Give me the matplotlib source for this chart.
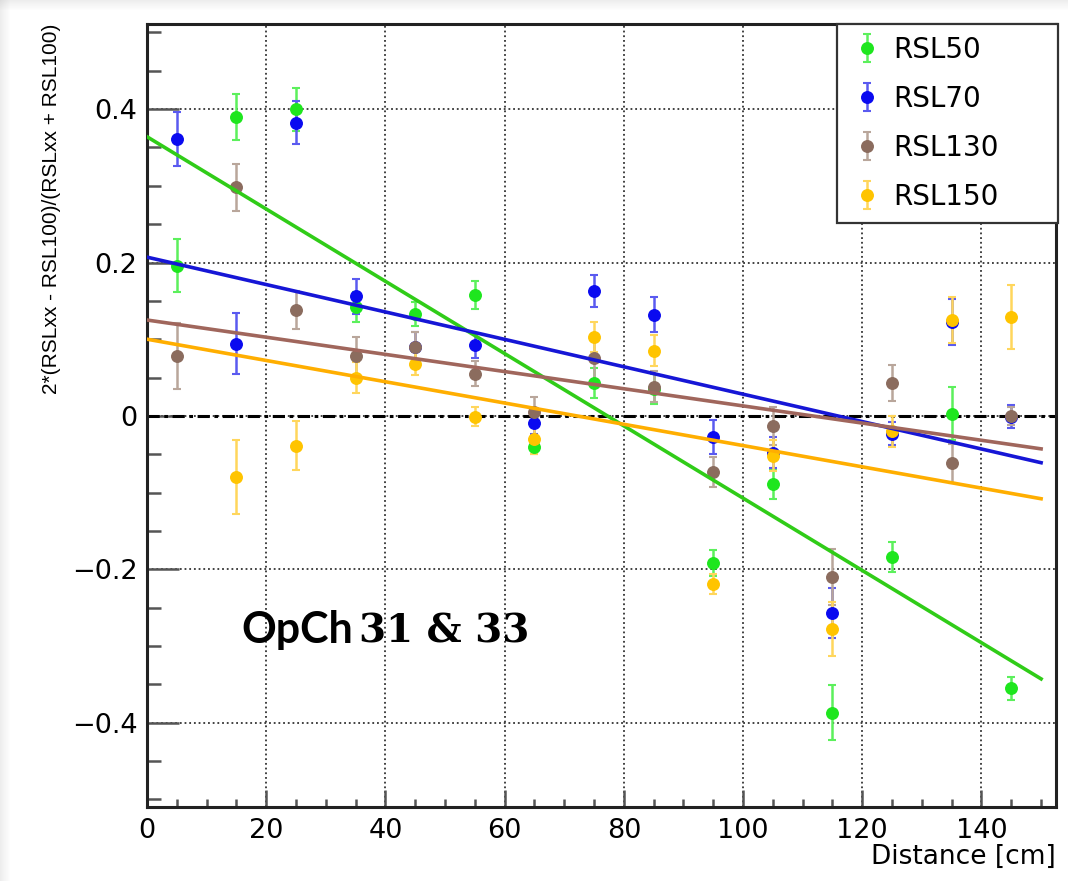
import matplotlib
matplotlib.use("Agg")
import matplotlib.pyplot as plt
from matplotlib import font_manager
from matplotlib.patches import Rectangle
from matplotlib.ticker import MultipleLocator
import numpy as np

# distance of the measurement points [cm]
distance = [5, 15, 25, 35, 45, 55, 65, 75, 85, 95, 105, 115, 125, 135, 145]

rsl50 = [0.196, 0.390, 0.400, 0.142, 0.133, 0.158, -0.040, 0.043, 0.035, -0.192, -0.089, -0.387, -0.184, 0.003, -0.355]
rsl50_err = [0.035, 0.030, 0.028, 0.020, 0.016, 0.018, 0.010, 0.020, 0.020, 0.017, 0.019, 0.036, 0.020, 0.035, 0.015]

rsl70 = [0.361, 0.094, 0.382, 0.156, 0.090, 0.092, -0.009, 0.163, 0.132, -0.028, -0.048, -0.257, -0.023, 0.123, -0.001]
rsl70_err = [0.035, 0.040, 0.028, 0.023, 0.020, 0.016, 0.015, 0.021, 0.023, 0.022, 0.020, 0.033, 0.015, 0.030, 0.015]

rsl130 = [0.078, 0.298, 0.138, 0.078, 0.090, 0.055, 0.005, 0.075, 0.038, -0.073, -0.013, -0.210, 0.043, -0.062, 0.000]
rsl130_err = [0.043, 0.031, 0.025, 0.025, 0.020, 0.016, 0.020, 0.030, 0.020, 0.020, 0.025, 0.036, 0.024, 0.025, 0.012]

rsl150 = [np.nan, -0.080, -0.039, 0.050, 0.068, -0.001, -0.030, 0.103, 0.085, -0.219, -0.052, -0.278, -0.020, 0.125, 0.129]
rsl150_err = [0.0, 0.048, 0.032, 0.020, 0.015, 0.012, 0.020, 0.020, 0.020, 0.013, 0.020, 0.035, 0.020, 0.030, 0.042]

# linear fit parameters (intercept, slope)
fit_intercept = [0.364, 0.207, 0.125, 0.100]
fit_slope = [-0.004713, -0.001787, -0.00112, -0.001387]
fit_range = [0, 150]

labels = ["RSL50", "RSL70", "RSL130", "RSL150"]
marker_colors = ["#1ee61e", "#0a0af0", "#8b6c5e", "#ffc400"]
error_colors = ["#5cf05c", "#5a5af0", "#b9a69b", "#ffd65c"]
line_colors = ["#30cc18", "#1616d6", "#a0665c", "#ffae00"]

series = [(rsl50, rsl50_err), (rsl70, rsl70_err), (rsl130, rsl130_err), (rsl150, rsl150_err)]

plt.rcParams['font.family'] = ['DejaVu Sans']

installed = {f.name for f in font_manager.fontManager.ttflist}
if 'Liberation Sans Narrow' in installed:
    ylab_font, ylab_size = 'Liberation Sans Narrow', 18
else:
    ylab_font, ylab_size = 'Liberation Sans', 15

fig = plt.figure(figsize=(10.68, 8.81), dpi=100)
ax = fig.add_axes([147 / 1068, 74 / 881, 909 / 1068, 783 / 881])

for (vals, errs), lab, mc, ec in zip(series, labels, marker_colors, error_colors):
    ax.errorbar(distance, vals, yerr=errs, fmt='o', color=mc, ms=8.3,
                ecolor=ec, elinewidth=1.8, capsize=3, capthick=1.5,
                label=lab, zorder=3)

xs = np.linspace(fit_range[0], fit_range[1], 50)
for b, m, lc in zip(fit_intercept, fit_slope, line_colors):
    ax.plot(xs, b + m * xs, color=lc, lw=2.6, zorder=4)

ax.axhline(0, color='black', ls=(0, (4, 1.5, 1.2, 1.5)), lw=2.2, zorder=2)

ax.set_xlim(0, 152.5)
ax.set_ylim(-0.51, 0.511)
ax.xaxis.set_major_locator(MultipleLocator(20))
ax.xaxis.set_minor_locator(MultipleLocator(5))
ax.yaxis.set_major_locator(MultipleLocator(0.2))
ax.yaxis.set_minor_locator(MultipleLocator(0.05))
ax.grid(True, which='major', color='#333333', ls=(0, (1, 1.6)), lw=1.3)

ax.tick_params(axis='both', which='both', direction='in', colors='#555555',
               labelcolor='black', labelsize=19.5)
ax.tick_params(axis='y', which='major', length=23, width=1.8, pad=7)
ax.tick_params(axis='y', which='minor', length=10, width=1.8)
ax.tick_params(axis='x', which='major', length=12, width=1.8, pad=8)
ax.tick_params(axis='x', which='minor', length=6, width=1.8)
ax.yaxis.set_major_formatter(plt.FuncFormatter(lambda v, p: "0" if abs(v) < 1e-9 else f"{v:.1f}".replace("-", "\u2212")))

for sp in ax.spines.values():
    sp.set_linewidth(2.2)
    sp.set_color('#222222')

ax.set_xlabel("Distance [cm]", fontsize=19, loc='right')
ax.xaxis.set_label_coords(1.0, -0.047)
ax.set_ylabel("2*(RSLxx - RSL100)/(RSLxx + RSL100)", fontsize=ylab_size,
              family=[ylab_font, 'DejaVu Sans'], loc='top')
ax.yaxis.set_label_coords(-0.095, 1.0)

leg = ax.legend(loc='upper left', bbox_to_anchor=(690 / 909, 0.0, 221 / 909, 1.0),
                mode='expand', borderaxespad=0, fontsize=20, frameon=True,
                fancybox=False, edgecolor='#333333', framealpha=1,
                handlelength=1.35, handletextpad=0.25, labelspacing=0.76,
                borderpad=0.42)
leg.get_frame().set_linewidth(1.6)

ax.text(15.9, -0.296, "OpCh", fontsize=31, fontweight='bold',
        family=['Lato', 'DejaVu Sans'], va='baseline', ha='left', zorder=5)
ax.text(35.6, -0.296, "31 & 33", fontsize=28, fontweight='bold',
        family=['DejaVu Serif'], va='baseline', ha='left', zorder=5)

# grey shadow round the picture
for i in range(10):
    a = 0.1 * (10 - i) / 10
    fig.add_artist(Rectangle((i / 1068, 0), 1 / 1068, 1, transform=fig.transFigure,
                             color='#555555', alpha=a, lw=0))
    fig.add_artist(Rectangle((0, 1 - (i + 1) / 881), 1, 1 / 881, transform=fig.transFigure,
                             color='#555555', alpha=a, lw=0))

fig.savefig("out.png", dpi=100)
